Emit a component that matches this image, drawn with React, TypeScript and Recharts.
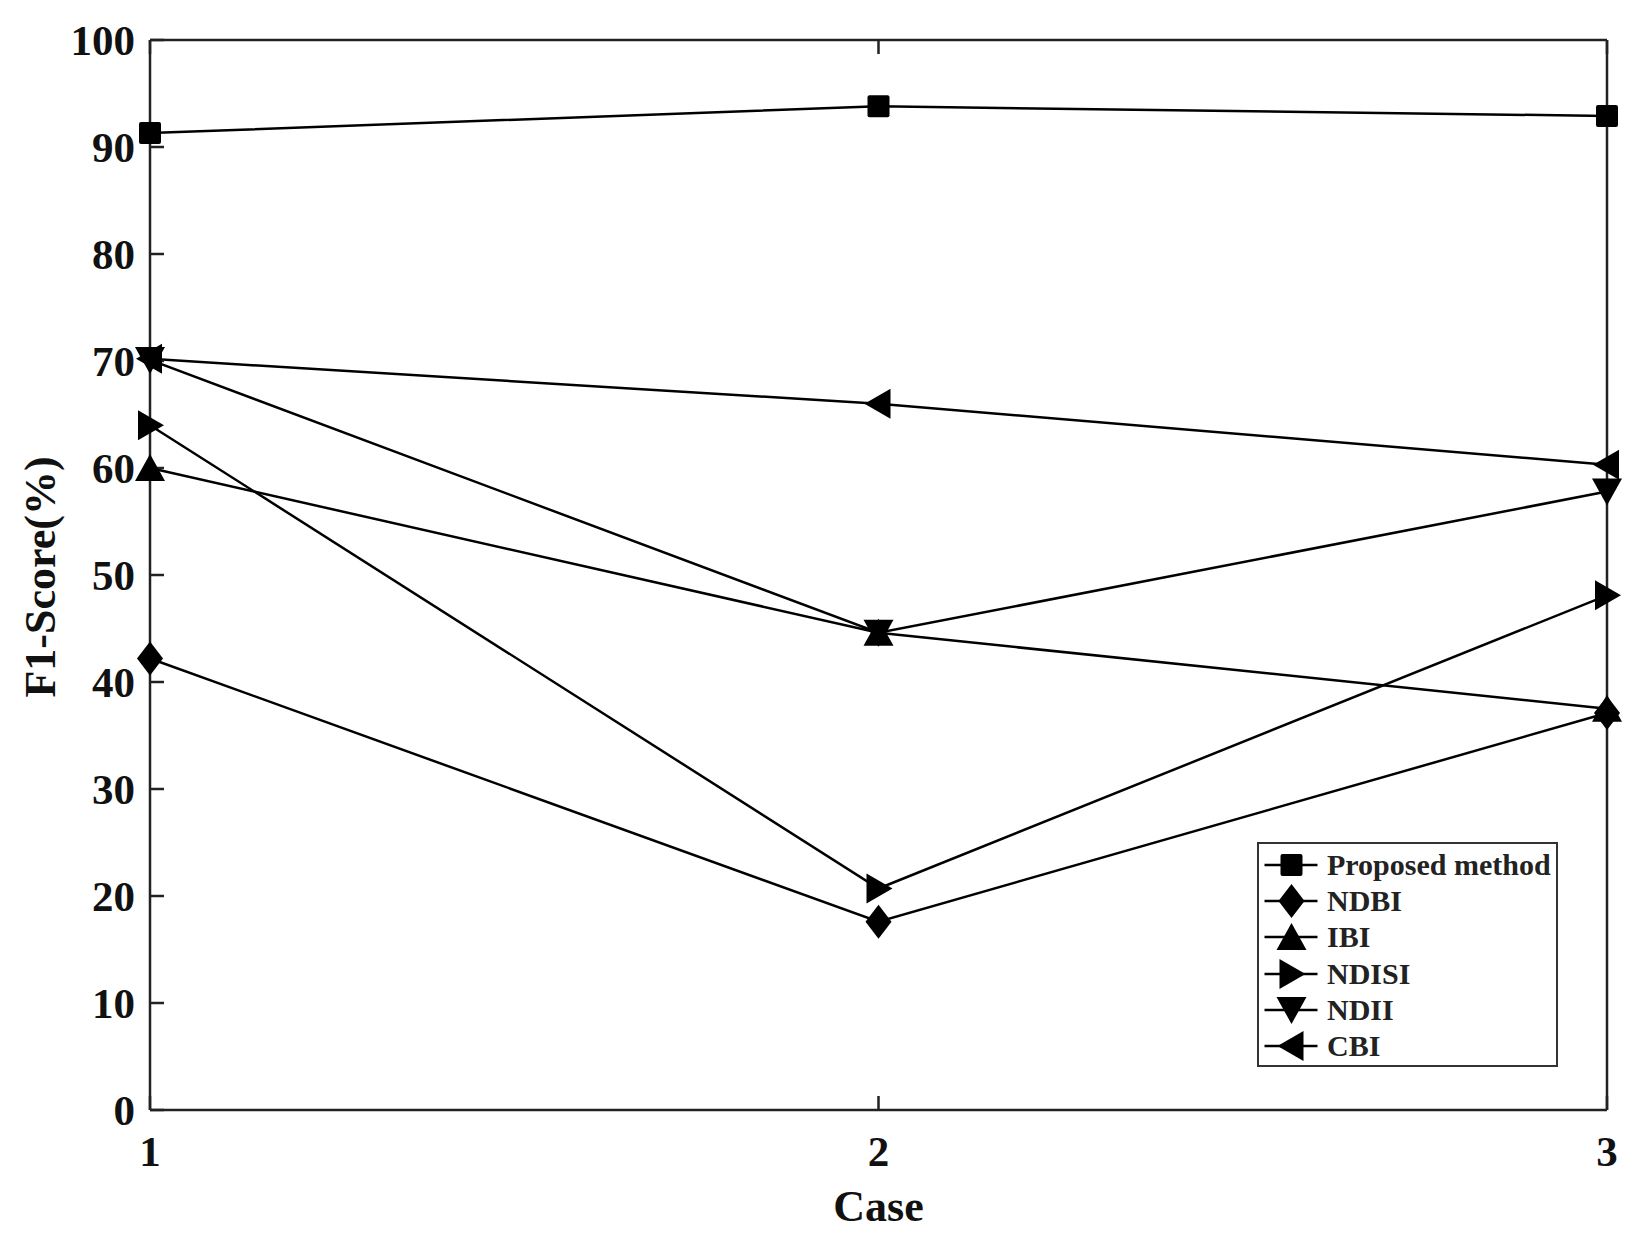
import React from "react";
import { LineChart, Line, XAxis, YAxis, Legend } from "recharts";

const cases = [1, 2, 3];
const proposed = [91.3, 93.8, 92.9];
const ndbi = [42.2, 17.6, 37.1];
const ibi = [60.0, 44.6, 37.5];
const ndisi = [64.0, 20.7, 48.1];
const ndii = [70.1, 44.6, 57.8];
const cbi = [70.2, 66.0, 60.3];
const yTicks = [0, 10, 20, 30, 40, 50, 60, 70, 80, 90, 100];
const xTicks = [1, 2, 3];

type Shape = "square" | "diamond" | "up" | "right" | "down" | "left";

const series: { key: string; name: string; shape: Shape; values: number[] }[] = [
  { key: "proposed", name: "Proposed method", shape: "square", values: proposed },
  { key: "ndbi", name: "NDBI", shape: "diamond", values: ndbi },
  { key: "ibi", name: "IBI", shape: "up", values: ibi },
  { key: "ndisi", name: "NDISI", shape: "right", values: ndisi },
  { key: "ndii", name: "NDII", shape: "down", values: ndii },
  { key: "cbi", name: "CBI", shape: "left", values: cbi },
];

const data = cases.map((c, i) => {
  const row: Record<string, number> = { case: c };
  series.forEach((s) => {
    row[s.key] = s.values[i];
  });
  return row;
});

const FONT = '"Liberation Serif", "Times New Roman", serif';
const INK = "#111";

function Marker({ shape, cx, cy }: { shape: Shape; cx: number; cy: number }) {
  if (shape === "square") {
    return <rect x={cx - 11} y={cy - 11} width={22} height={22} rx={2} fill="#000" />;
  }
  let pts: number[][] = [];
  if (shape === "diamond") pts = [[0, -17], [13, 0], [0, 17], [-13, 0]];
  if (shape === "up") pts = [[0, -14], [15, 13], [-15, 13]];
  if (shape === "down") pts = [[0, 14], [15, -13], [-15, -13]];
  if (shape === "right") pts = [[14, 0], [-12, -15], [-12, 15]];
  if (shape === "left") pts = [[-14, 0], [12, -15], [12, 15]];
  return (
    <polygon
      points={pts.map(([dx, dy]) => `${cx + dx},${cy + dy}`).join(" ")}
      fill="#000"
    />
  );
}

const LegendBox = () => (
  <div
    style={{
      width: 301,
      height: 225,
      boxSizing: "border-box",
      border: "2.5px solid #333",
      background: "#fff",
      paddingTop: 3,
    }}
  >
    {series.map((s) => (
      <div key={s.key} style={{ display: "flex", alignItems: "center", height: 36.2 }}>
        <svg width={68} height={36} style={{ overflow: "visible", flex: "none" }}>
          <line x1={5.5} x2={58.5} y1={18} y2={18} stroke="#000" strokeWidth={2.5} />
          <Marker shape={s.shape} cx={32.5} cy={18} />
        </svg>
        <span
          style={{
            fontFamily: FONT,
            fontWeight: "bold",
            fontSize: 30,
            color: "#222",
            lineHeight: "36px",
            whiteSpace: "nowrap",
          }}
        >
          {s.name}
        </span>
      </div>
    ))}
  </div>
);

const YLabel = () => (
  <text
    x={40}
    y={577}
    transform="rotate(-90 40 577)"
    textAnchor="middle"
    dominantBaseline="central"
    fontFamily={FONT}
    fontWeight="bold"
    fontSize={44}
    fill={INK}
  >
    F1-Score(%)
  </text>
);

const tickStyle = { fontFamily: FONT, fontWeight: "bold", fontSize: 43, fill: INK };
const axisLine = { stroke: "#222", strokeWidth: 2.5 };
const tickLine = { stroke: "#222", strokeWidth: 2.5 };

export default function App() {
  return (
    <div style={{ position: "absolute", left: 0, top: 0, background: "#fff" }}>
      <LineChart
        width={1646}
        height={1251}
        data={data}
        margin={{ top: 39, right: 38, bottom: 0, left: 0 }}
      >
        <XAxis
          dataKey="case"
          type="number"
          domain={[1, 3]}
          ticks={xTicks}
          height={141}
          tickSize={-14}
          tickMargin={39}
          axisLine={axisLine}
          tickLine={tickLine}
          tick={tickStyle}
          label={{
            value: "Case",
            position: "insideBottom",
            offset: 30,
            style: { fontFamily: FONT, fontWeight: "bold", fontSize: 44, fill: INK },
          }}
        />
        <XAxis
          xAxisId="top"
          dataKey="case"
          orientation="top"
          type="number"
          domain={[1, 3]}
          ticks={xTicks}
          height={1}
          tickSize={-14}
          axisLine={axisLine}
          tickLine={tickLine}
          tickFormatter={() => ""}
        />
        <YAxis
          type="number"
          domain={[0, 100]}
          ticks={yTicks}
          width={150}
          tickSize={-14}
          tickMargin={29}
          axisLine={axisLine}
          tickLine={tickLine}
          tick={tickStyle}
          label={{ content: <YLabel /> }}
        />
        <YAxis
          yAxisId="right"
          orientation="right"
          type="number"
          domain={[0, 100]}
          ticks={yTicks}
          width={1}
          tickSize={-14}
          axisLine={axisLine}
          tickLine={tickLine}
          tickFormatter={() => ""}
        />
        <Legend
          layout="vertical"
          align="center"
          verticalAlign="middle"
          content={<LegendBox />}
          wrapperStyle={{ position: "absolute", left: 1257, top: 842, width: 301, height: 225 }}
        />
        {series.map((s) => (
          <Line
            key={s.key}
            dataKey={s.key}
            name={s.name}
            type="linear"
            stroke="#000"
            strokeWidth={2.5}
            isAnimationActive={false}
            activeDot={false}
            dot={(p: any) => (
              <Marker key={`${s.key}-${p.index}`} shape={s.shape} cx={p.cx} cy={p.cy} />
            )}
          />
        ))}
      </LineChart>
    </div>
  );
}
